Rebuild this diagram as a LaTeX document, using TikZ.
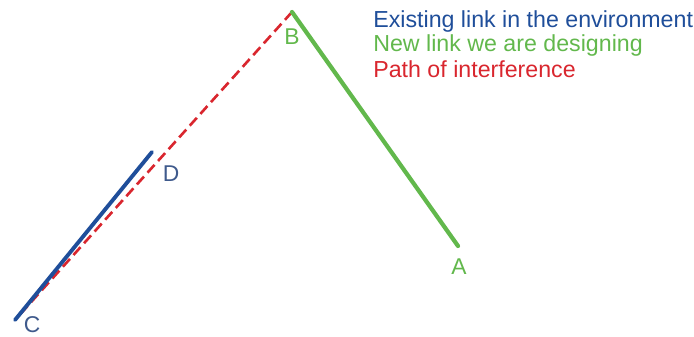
\documentclass[tikz,border=0pt]{standalone}
\usepackage{fontspec}
\setmainfont{Liberation Sans}
\usepackage{xcolor}
\usetikzlibrary{positioning}
\definecolor{linkBlue}{HTML}{1F4E9A}
\definecolor{linkGreen}{HTML}{62B84C}
\definecolor{linkRed}{HTML}{D9262E}
\definecolor{labelGray}{HTML}{3F5A8C}

\begin{document}
\begin{tikzpicture}[
    x=0.02cm, y=-0.02cm,
    existing/.style={linkBlue, line width=2.2pt, line cap=round},
    newlink/.style={linkGreen, line width=2.4pt, line cap=round},
    interference/.style={linkRed, line width=1.5pt, dash pattern=on 6pt off 3pt},
    site/.style={font=\fontsize{13}{13}\selectfont, inner sep=0pt},
    legend/.style={font=\fontsize{13.2}{14}\selectfont, anchor=west, inner sep=0pt},
]
% Canvas
\useasboundingbox (0,0) rectangle (694,337);

% Sites
\coordinate (a) at (458,246);
\coordinate (b) at (292,12);
\coordinate (c) at (15,320);
\coordinate (d) at (152,152);

% Links
\draw[interference] (b) -- (c);
\draw[existing] (c) -- (d);
\draw[newlink] (b) -- (a);

% Site labels
\node[site, linkGreen] (la) at (459,267) {A};
\node[site, linkGreen] (lb) at (292,37) {B};
\node[site, labelGray] (lc) at (32,325) {C};
\node[site, labelGray] (ld) at (171,174) {D};

% Legend
\node[legend, linkBlue] (existingtxt) at (373,22) {Existing link in the environment};
\node[legend, linkGreen] (newtxt) at (373,46) {New link we are designing};
\node[legend, linkRed] (pathtxt) at (373,69) {Path of interference};
\end{tikzpicture}
\end{document}
